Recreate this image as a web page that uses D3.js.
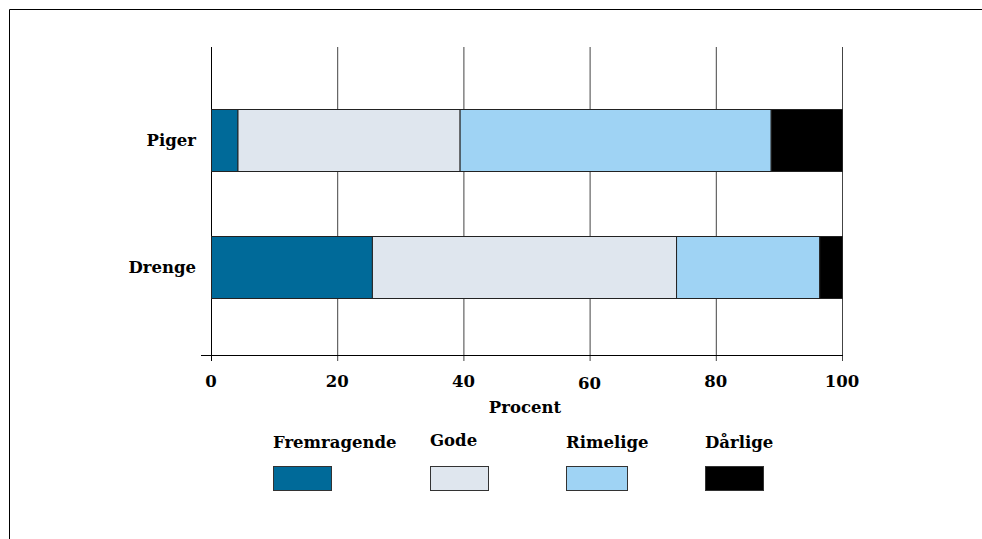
<!DOCTYPE html>
<html><head><meta charset="utf-8">
<script src="https://cdn.jsdelivr.net/npm/d3@7"></script>
<style>body{margin:0;background:#fff}svg{display:block}</style>
</head><body>
<svg id="c" width="982" height="539"></svg>
<script>
const categories = ["Piger", "Drenge"];
const seriesNames = ["Fremragende", "Gode", "Rimelige", "Dårlige"];
const fremragende = [4.2, 25.5];
const gode = [35.2, 48.2];
const rimelige = [49.3, 22.7];
const daarlige = [11.3, 3.6];
const tickValues = [0, 20, 40, 60, 80, 100];
const colors = ["#006a99", "#dfe6ee", "#9fd3f4", "#000000"];

const svg = d3.select("#c");
const font = "'DejaVu Serif', serif";
// frame
svg.append("path").attr("d","M9.5,539 V9.5 H982").attr("fill","none").attr("stroke","#000").attr("stroke-width",1);

const x = d3.scaleLinear().domain([0,100]).range([211,842]);
const y = d3.scaleBand().domain(categories).range([46,361]).paddingInner(0.512).paddingOuter(0.496);

// gridlines
svg.append("g").selectAll("line").data(tickValues).join("line")
  .attr("x1", d=>x(d)+0.5).attr("x2", d=>x(d)+0.5).attr("y1",47).attr("y2",361)
  .attr("stroke", d=> d===0 ? "#000" : "#444").attr("stroke-width",1);
// axis line
svg.append("line").attr("x1",201).attr("x2",843).attr("y1",355.5).attr("y2",355.5).attr("stroke","#000");

const data = categories.map((c,i)=>({cat:c, Fremragende:fremragende[i], Gode:gode[i], Rimelige:rimelige[i], "Dårlige":daarlige[i]}));
const stack = d3.stack().keys(seriesNames)(data);
svg.append("g").selectAll("g").data(stack).join("g")
  .attr("fill",(d,i)=>colors[i])
  .selectAll("rect").data(d=>d).join("rect")
  .attr("x", d=>x(d[0])+0.5).attr("width", d=>x(d[1])-x(d[0]))
  .attr("y", d=>Math.round(y(d.data.cat))+0.5).attr("height", Math.round(y.bandwidth()))
  .attr("stroke","#222").attr("stroke-width",1);

// category labels
svg.append("g").selectAll("text").data(categories).join("text")
  .attr("x",196).attr("y", d=>y(d)+y.bandwidth()/2+6)
  .attr("text-anchor","end").attr("font-family",font).attr("font-weight","bold").attr("font-size",16.5)
  .text(d=>d);

// tick labels
svg.append("g").selectAll("text").data(tickValues).join("text")
  .attr("x", d=>x(d)).attr("y", d=> d===60 ? 389 : 387)
  .attr("text-anchor","middle").attr("font-family",font).attr("font-weight","bold").attr("font-size",16.5)
  .text(d=>d);
svg.append("text").attr("x",525).attr("y",413).attr("text-anchor","middle")
  .attr("font-family",font).attr("font-weight","bold").attr("font-size",16.5).text("Procent");

// legend
const legX = [273, 430, 566, 705];
const legLabelY = [448, 446, 448, 448];
const lg = svg.append("g");
lg.selectAll("rect").data(seriesNames).join("rect")
  .attr("x",(d,i)=>legX[i]+0.5).attr("y",466.5).attr("width",(d,i)=> i===2?61:58).attr("height",24)
  .attr("fill",(d,i)=>colors[i]).attr("stroke","#333").attr("stroke-width",1);
lg.selectAll("text").data(seriesNames).join("text")
  .attr("x",(d,i)=>legX[i]).attr("y",(d,i)=>legLabelY[i])
  .attr("font-family",font).attr("font-weight","bold").attr("font-size",16.5)
  .text(d=>d);
</script>
</body></html>
